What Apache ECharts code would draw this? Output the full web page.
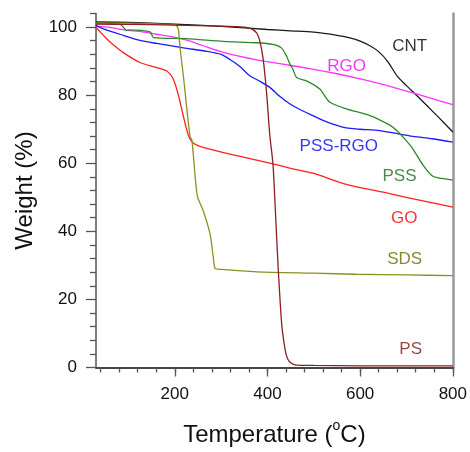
<!DOCTYPE html>
<html>
<head>
<meta charset="utf-8">
<script src="https://cdn.jsdelivr.net/npm/echarts@6/dist/echarts.min.js"></script>
<style>
html,body{margin:0;padding:0;background:#fff;}
#chart{width:470px;height:452px;}
</style>
</head>
<body>
<div id="chart"></div>
<script>
// ---- data (Temperature °C, Weight %) ----
var cntT = [30, 100, 200, 300, 400, 450, 500, 550, 580, 600, 620, 640, 660, 680, 700, 720, 745, 770, 800];
var cntW = [101.5, 101.4, 100.9, 100.2, 99.3, 98.9, 98.5, 97.6, 96.8, 95.9, 94.6, 92.8, 89.8, 85.6, 82.8, 80.2, 76.8, 73.4, 69.2];

var rgoT = [30, 60, 90, 130, 160, 200, 230, 260, 305, 377, 448, 500, 550, 600, 642, 700, 750, 800];
var rgoW = [100.3, 99.9, 99.2, 98.6, 97.9, 97.0, 96.0, 94.6, 92.6, 90.4, 88.8, 87.6, 86.3, 84.8, 83.4, 81.2, 79.2, 77.2];

var pssRgoT = [30, 46, 89, 125, 161, 219, 269, 300, 319, 340, 362, 385, 405, 427, 448, 470, 498, 520, 541, 570, 600, 642, 714, 756, 800];
var pssRgoW = [100.5, 99.5, 97.6, 96.1, 95.2, 93.9, 92.9, 92.0, 90.5, 88.5, 85.7, 84.0, 82.3, 79.6, 77.5, 75.8, 74.0, 72.6, 71.5, 70.4, 70.0, 69.6, 67.9, 67.2, 66.2];

var pssT = [30, 82, 89, 96, 100, 147, 154, 225, 305, 377, 412, 430, 441, 448, 455, 463, 484, 513, 534, 570, 620, 664, 680, 692, 713, 735, 757, 793, 800];
var pssW = [101.2, 100.8, 100.0, 99.0, 99.2, 98.6, 96.9, 96.6, 95.8, 95.4, 94.9, 93.9, 91.5, 89.3, 87.6, 85.2, 84.2, 81.8, 78.0, 76.0, 74.1, 71.2, 69.5, 67.8, 64.4, 59.6, 56.2, 55.2, 55.1];

var goT = [30, 39, 53, 64, 89, 125, 161, 183, 197, 208, 218, 229, 237, 250, 269, 341, 412, 448, 500, 570, 650, 720, 800];
var goW = [100.0, 98.6, 96.6, 95.2, 92.5, 89.6, 88.1, 87.1, 84.7, 79.9, 74.1, 68.3, 66.3, 65.2, 64.4, 62.0, 59.8, 58.6, 57.0, 53.8, 51.5, 49.4, 47.1];

var sdsT = [30, 100, 150, 200, 204, 208, 211, 218.5, 226, 233, 237, 248.6, 261.6, 276, 283, 287, 300, 377, 500, 592, 700, 800];
var sdsW = [101.2, 101.2, 101.0, 100.7, 100.4, 99.2, 94.4, 85.7, 76.0, 67.8, 66.8, 50.4, 46.0, 39.3, 32.5, 29.1, 28.8, 28.1, 27.7, 27.4, 27.2, 27.0];

var psT = [30, 100, 200, 300, 340, 362, 376.6, 383.7, 390.8, 398, 405, 412, 418, 423, 430.5, 436, 441, 447, 455, 463, 500, 600, 700, 800];
var psW = [100.9, 100.8, 100.6, 100.3, 100.1, 99.7, 98.3, 95.8, 90.5, 80.9, 68.3, 59.6, 43.5, 29.6, 13.1, 7.0, 3.5, 1.8, 1.0, 0.7, 0.6, 0.5, 0.5, 0.5];

// curve labels: name, temperature, weight
var labelNames = ['CNT', 'RGO', 'PSS-RGO', 'PSS', 'GO', 'SDS', 'PS'];
var labelT = [707, 571, 554, 685, 695, 696, 709];
var labelW = [94.3, 88.6, 65.1, 56.1, 43.9, 31.9, 5.2];
var labelColors = ['#000000', '#ff00ff', '#0000ff', '#1a6e1a', '#ff0000', '#6b6b00', '#801515'];

// axis ticks
var xMajorTicks = [200, 400, 600, 800];
var xMinorTicks = [40, 80, 120, 160, 200, 240, 280, 320, 360, 400, 440, 480, 520, 560, 600, 640, 680, 720, 760, 800];
var yMajorTicks = [0, 20, 40, 60, 80, 100];
var yMinorTicks = [4, 8, 12, 16, 24, 28, 32, 36, 44, 48, 52, 56, 64, 68, 72, 76, 84, 88, 92, 96, 104];

function pairs(t, w) { return t.map(function (v, i) { return [v, w[i]]; }); }

var chart = echarts.init(document.getElementById('chart'), null, {renderer: 'canvas'});
var FONT = '"Liberation Sans", Arial, sans-serif';
var AX = '#555555';

function line(name, t, w, color) {
  return {
    name: name, type: 'line', data: pairs(t, w), xAxisIndex: 0, yAxisIndex: 0,
    showSymbol: false, symbol: 'none', smooth: 0.25,
    lineStyle: {color: color, width: 1.3}, silent: true, z: 3
  };
}

var option = {
  animation: false,
  backgroundColor: '#ffffff',
  grid: {left: 96, right: 17, top: 13.5, bottom: 80, containLabel: false},
  xAxis: [
    {
      type: 'value', position: 'bottom', min: 30, max: 800,
      axisLine: {show: true, lineStyle: {color: AX, width: 1.5}},
      axisTick: {show: true, customValues: xMajorTicks, length: 9, lineStyle: {color: AX, width: 1.3}},
      axisLabel: {show: true, customValues: xMajorTicks, fontSize: 17, fontFamily: FONT, color: '#111', margin: 18},
      splitLine: {show: false},
      name: 'Temperature ({sup|o}C)', nameLocation: 'middle', nameGap: 52,
      nameTextStyle: {fontSize: 24, fontFamily: FONT, color: '#111',
        rich: {sup: {fontSize: 14, fontFamily: FONT, color: '#111', padding: [0, 0, 17, 0]}}}
    },
    {
      type: 'value', position: 'bottom', min: 30, max: 800,
      axisLine: {show: false},
      axisTick: {show: true, customValues: xMinorTicks, length: 5, lineStyle: {color: AX, width: 1.3}},
      axisLabel: {show: false}, splitLine: {show: false}
    },
    {
      type: 'value', position: 'top', min: 30, max: 800,
      axisLine: {show: true, lineStyle: {color: '#333333', width: 1.5}},
      axisTick: {show: false}, axisLabel: {show: false}, splitLine: {show: false}
    }
  ],
  yAxis: [
    {
      type: 'value', position: 'left', min: 0, max: 104,
      axisLine: {show: true, lineStyle: {color: AX, width: 1.5}},
      axisTick: {show: true, customValues: yMajorTicks, length: 10, lineStyle: {color: AX, width: 1.3}},
      axisLabel: {show: true, customValues: yMajorTicks, fontSize: 17, fontFamily: FONT, color: '#111', margin: 19},
      splitLine: {show: false},
      name: 'Weight (%)', nameLocation: 'middle', nameGap: 56,
      nameTextStyle: {fontSize: 24, fontFamily: FONT, color: '#111'}
    },
    {
      type: 'value', position: 'left', min: 0, max: 104,
      axisLine: {show: false},
      axisTick: {show: true, customValues: yMinorTicks, length: 6, lineStyle: {color: AX, width: 1.3}},
      axisLabel: {show: false}, splitLine: {show: false}
    },
    {
      type: 'value', position: 'right', min: 0, max: 104,
      axisLine: {show: true, lineStyle: {color: '#999999', width: 2.5}},
      axisTick: {show: false}, axisLabel: {show: false}, splitLine: {show: false}
    }
  ],
  series: [
    line('CNT', cntT, cntW, '#1a1a1a'),
    line('RGO', rgoT, rgoW, '#ff33ff'),
    line('PSS-RGO', pssRgoT, pssRgoW, '#1a1aff'),
    line('PSS', pssT, pssW, '#2a8a2a'),
    line('GO', goT, goW, '#ff2020'),
    line('SDS', sdsT, sdsW, '#8f8f1f'),
    line('PS', psT, psW, '#8b2020'),
    {
      type: 'scatter', xAxisIndex: 0, yAxisIndex: 0, symbolSize: 0, silent: true, z: 5,
      itemStyle: {color: 'transparent'},
      data: labelNames.map(function (n, i) {
        return {
          value: [labelT[i], labelW[i]], name: n,
          label: {show: true, position: 'inside', formatter: n, color: labelColors[i],
            fontSize: 17, fontFamily: FONT}
        };
      })
    }
  ]
};
chart.setOption(option);
</script>
</body>
</html>
